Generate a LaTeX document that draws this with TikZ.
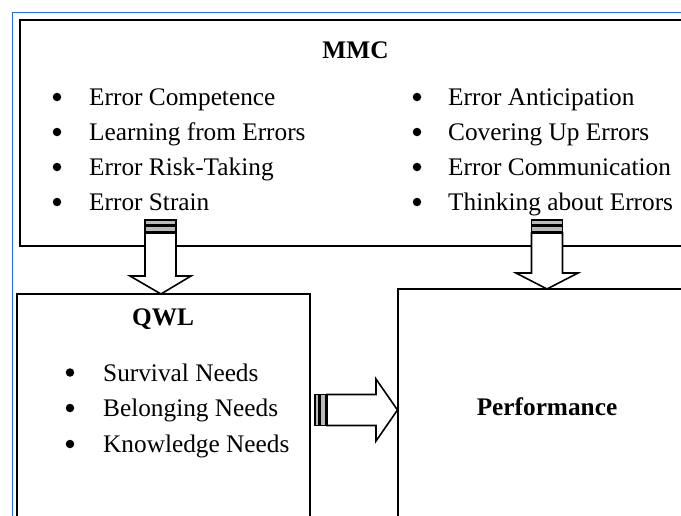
\documentclass[tikz,border=0pt]{standalone}
\usepackage{fontspec}
\setmainfont{Liberation Serif}
\definecolor{frameblue}{RGB}{35,105,235}

\begin{document}
\begin{tikzpicture}[x=1pt,y=-1pt,line join=miter,
    box/.style={draw,line width=2pt,inner sep=0pt,outer sep=0pt,anchor=north west},
    title/.style={anchor=base,inner sep=0pt,font=\fontsize{25.3}{30}\selectfont\bfseries},
    item/.style={anchor=base west,inner sep=0pt,font=\fontsize{25.3}{30}\selectfont},
    dot/.style={circle,fill,inner sep=0pt,minimum size=8.5pt},
    blockarrow/.style={draw,fill=white,line width=1.6pt},
    stripe/.style={draw,fill=gray!55,line width=1.2pt}]

    \useasboundingbox (0,0) rectangle (681,515);
    \clip (0,0) rectangle (681,515);
    \fill[white] (0,0) rectangle (681,515);
    \draw[frameblue,line width=1.5pt] (12.5,12.5) rectangle (720,560);

    % the three boxes
    \node[box,minimum width=700pt,minimum height=226pt] (mmc) at (20,19.5) {};
    \node[box,minimum width=293pt,minimum height=270pt] (qwl) at (17,294) {};
    \node[box,minimum width=330pt,minimum height=275pt] (perf) at (397.5,289) {};

    \node[title] (mmctitle) at (355.5,58.5) {MMC};
    \node[title] (qwltitle) at (163,325) {QWL};
    \node[title] (perftitle) at (547,415) {Performance};

    % MMC items
    \node[dot] (b1) at (57,97) {};
    \node[dot] (b2) at (57,132) {};
    \node[dot] (b3) at (57,167) {};
    \node[dot] (b4) at (57,202) {};
    \node[item] (e1) at (89,105.5) {Error Competence};
    \node[item] (e2) at (89,140.5) {Learning from Errors};
    \node[item] (e3) at (89,175.5) {Error Risk-Taking};
    \node[item] (e4) at (89,210.5) {Error Strain};

    \node[dot] (b5) at (417,97) {};
    \node[dot] (b6) at (417,132) {};
    \node[dot] (b7) at (417,167) {};
    \node[dot] (b8) at (417,202) {};
    \node[item] (e5) at (448,105.5) {Error Anticipation};
    \node[item] (e6) at (448,140.5) {Covering Up Errors};
    \node[item] (e7) at (448,175.5) {Error Communication};
    \node[item] (e8) at (448,210.5) {Thinking about Errors};

    % QWL items
    \node[dot] (q1) at (70,372.5) {};
    \node[dot] (q2) at (70,408) {};
    \node[dot] (q3) at (70,444) {};
    \node[item] (n1) at (103,381) {Survival Needs};
    \node[item] (n2) at (103,416.5) {Belonging Needs};
    \node[item] (n3) at (103,452.5) {Knowledge Needs};

    % arrow tips on the boxes
    \coordinate (tipA) at (qwl.north west -| 161,0);
    \coordinate (tipB) at (perf.north west -| 547,0);
    \coordinate (tipC) at (perf.north west |- 0,410);

    \draw[blockarrow] (tipA) -- ++(-31,-18) -- ++(15,0) -- ++(0,-43)
        -- ++(31,0) -- ++(0,43) -- ++(15,0) -- cycle;
    \draw[stripe] (145,220) rectangle (176,225);
    \draw[stripe] (145,226.5) rectangle (176,231.5);

    \draw[blockarrow] (tipB) -- ++(-31,-16) -- ++(15.5,0) -- ++(0,-40)
        -- ++(31,0) -- ++(0,40) -- ++(15.5,0) -- cycle;
    \draw[stripe] (531.5,220) rectangle (562.5,225);
    \draw[stripe] (531.5,226.5) rectangle (562.5,231.5);

    \draw[blockarrow] (tipC) -- ++(-21.5,-31) -- ++(0,15.5) -- ++(-49,0)
        -- ++(0,31) -- ++(49,0) -- ++(0,15.5) -- cycle;
    \draw[stripe] (315,394.5) rectangle (319,425.5);
    \draw[stripe] (320.5,394.5) rectangle (325.5,425.5);

\end{tikzpicture}
\end{document}
